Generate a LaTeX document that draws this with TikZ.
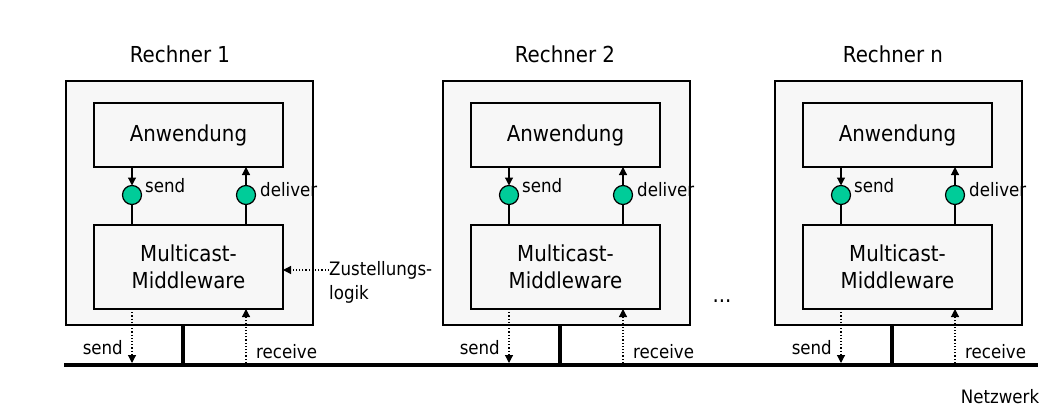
\documentclass[tikz,border=0pt]{standalone}
\usepackage{fontspec}
\setmainfont{DejaVu Sans Condensed}
\usetikzlibrary{arrows.meta}

\definecolor{boxgray}{RGB}{247,247,247}
\definecolor{portgreen}{RGB}{0,204,153}

\begin{document}
\begin{tikzpicture}[
        x=1pt,
        y=-1pt,
        big/.style={
            font=\fontsize{22}{27}\selectfont,
        },
        small/.style={
            font=\fontsize{18.5}{22}\selectfont,
            inner sep=0pt,
        },
        rechner/.style={
            draw,
            line width=1.6pt,
            fill=boxgray,
            inner sep=0pt,
            outer sep=0pt,
            minimum width=247,
            minimum height=244,
        },
        layer/.style={
            draw,
            line width=1.4pt,
            fill=boxgray,
            inner sep=0pt,
            outer sep=0pt,
            minimum width=189,
            align=center,
            big,
        },
        port/.style={
            draw,
            circle,
            line width=1.2pt,
            fill=portgreen,
            inner sep=0pt,
            outer sep=0pt,
            minimum size=19,
        },
        call/.style={
            line width=1.2pt,
            -{Triangle[length=8pt,width=8pt]},
        },
        wire/.style={
            line width=1.2pt,
        },
        net-link/.style={
            dotted,
            line width=1.2pt,
            -{Triangle[length=8pt,width=8pt]},
        },
        net-stub/.style={
            line width=3.5pt,
        },
        bus/.style={
            line width=4pt,
        },
    ]

    \useasboundingbox (0,0) rectangle (1060,417);

    % Network line.
    \coordinate (busL) at (64,365);
    \coordinate (busR) at (1038,365);
    \draw[bus] (busL) -- (busR);

    % Computers.
    \foreach \i/\o/\tx in {1/0/180, 2/377/565, n/709/893} {
        \node[rechner] (rech\i) at (189.5+\o,203) {};
        \node[big] (title\i) at (\tx,54) {Rechner \i};
        \node[layer, minimum height=64] (app\i) at (188.5+\o,135) {Anwendung};
        \node[layer, minimum height=84] (mw\i) at (188.5+\o,267) {Multicast-\\Middleware};
        \node[port] (snd\i) at (132+\o,195) {};
        \node[port] (dlv\i) at (246+\o,195) {};

        % Calls between application and middleware.
        \draw[call] (snd\i |- app\i.south) -- (snd\i.north);
        \draw[wire] (snd\i.south) -- (snd\i |- mw\i.north);
        \draw[wire] (dlv\i |- mw\i.north) -- (dlv\i.south);
        \draw[call] (dlv\i.north) -- (dlv\i |- app\i.south);
        \node[small, anchor=west] (sndtxt\i) at ([xshift=3.5pt,yshift=9pt]snd\i.east) {send};
        \node[small, anchor=west] (dlvtxt\i) at ([xshift=4.5pt,yshift=5pt]dlv\i.east) {deliver};

        % Connection to the network.
        \coordinate (sbus\i) at (snd\i |- busL);
        \coordinate (rbus\i) at (dlv\i |- busL);
        \coordinate (stub\i) at (183+\o,365);
        \draw[net-stub] (stub\i |- rech\i.south) -- (stub\i);
        \draw[net-link, shorten >=2pt] (snd\i |- mw\i.south) -- (sbus\i);
        \draw[net-link, shorten <=2pt] (rbus\i) -- (dlv\i |- mw\i.south);
        \node[small, anchor=east] (sendtxt\i) at ([xshift=-9pt,yshift=17pt]sbus\i) {send};
        \node[small, anchor=west] (recvtxt\i) at ([xshift=10pt,yshift=13pt]rbus\i) {receive};
    }

    % Delivery logic.
    \node[small, anchor=west] (zst) at (329,270) {Zustellungs-};
    \node[small, anchor=north west] (zst2) at ([yshift=-6pt]zst.south west) {logik};
    \draw[net-link] (zst.west) -- (zst.west -| mw1.east);

    \node[big] (dots) at (722,301) {...};
    \node[small] (netz) at (1000,397) {Netzwerk};
\end{tikzpicture}
\end{document}
